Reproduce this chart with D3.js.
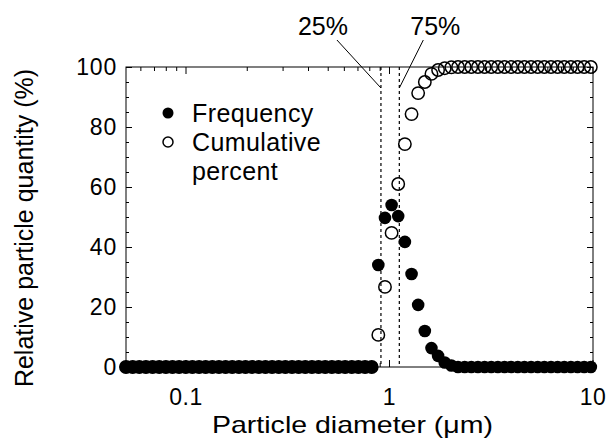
<!DOCTYPE html>
<html>
<head>
<meta charset="utf-8">
<script src="https://cdn.jsdelivr.net/npm/d3@7"></script>
<style>
  body { margin: 0; background: #fff; }
  text { font-family: 'Liberation Sans', Arial, sans-serif; fill: #000; }
</style>
</head>
<body>
<div id="chart"></div>
<script>
// particle diameter bins (um)
const diameters = [
  0.0510, 0.0550, 0.0593, 0.0639, 0.0689, 0.0743, 0.0801, 0.0863, 0.0930, 0.1003,
  0.1081, 0.1166, 0.1256, 0.1355, 0.1460, 0.1574, 0.1697, 0.1830, 0.1972, 0.2126,
  0.2292, 0.2471, 0.2664, 0.2872, 0.3096, 0.3338, 0.3597, 0.3879, 0.4181, 0.4507,
  0.4860, 0.5239, 0.5647, 0.6088, 0.6563, 0.7074, 0.7627, 0.8222, 0.8863, 0.9556,
  1.030, 1.110, 1.197, 1.291, 1.391, 1.500, 1.617, 1.743, 1.879, 2.026,
  2.184, 2.355, 2.538, 2.736, 2.950, 3.180, 3.428, 3.696, 3.984, 4.295,
  4.630, 4.991, 5.381, 5.801, 6.254, 6.742, 7.268, 7.834, 8.446, 9.106,
  9.815
];
const frequency = [
  0, 0, 0, 0, 0, 0, 0, 0, 0, 0,
  0, 0, 0, 0, 0, 0, 0, 0, 0, 0,
  0, 0, 0, 0, 0, 0, 0, 0, 0, 0,
  0, 0, 0, 0, 0, 0, 0, 0, 34, 49.7,
  54, 50.3, 41.7, 31, 20.7, 12, 6.3, 3.7, 1.5, 0.5,
  0, 0, 0, 0, 0, 0, 0, 0, 0, 0,
  0, 0, 0, 0, 0, 0, 0, 0, 0, 0,
  0
];
const cumulative = [
  0, 0, 0, 0, 0, 0, 0, 0, 0, 0,
  0, 0, 0, 0, 0, 0, 0, 0, 0, 0,
  0, 0, 0, 0, 0, 0, 0, 0, 0, 0,
  0, 0, 0, 0, 0, 0, 0, 0, 10.7, 26.7,
  44.7, 61, 74.3, 84.3, 91.3, 95, 97.7, 99, 99.6, 99.9,
  100, 100, 100, 100, 100, 100, 100, 100, 100, 100,
  100, 100, 100, 100, 100, 100, 100, 100, 100, 100,
  100
];
const xTickLabels = [0.1, 1, 10];
const yTickLabels = [0, 20, 40, 60, 80, 100];
const quartileNames = ['25%', '75%'];
const quartileDiameters = [0.913, 1.124];
const legendNames = ['Frequency', 'Cumulative'];

const width = 606;
const height = 448;
const margin = {top: 67, right: 13, bottom: 81, left: 126};

const svg = d3.select('#chart')
    .append('svg')
    .attr('width', width)
    .attr('height', height);

const x = d3.scaleLog()
    .domain([0.051, 10.06])
    .range([margin.left, width - margin.right]);
const y = d3.scaleLinear()
    .domain([0, 100])
    .range([height - margin.bottom, margin.top]);

const x0 = x.range()[0];
const x1 = x.range()[1];
const y0 = y.range()[0];
const y1 = y.range()[1];

// minor log ticks
const majorX = xTickLabels;
const minorX = [];
[0.01, 0.1, 1].forEach(function(dec) {
  for (let k = 2; k <= 9; k++) {
    const v = dec * k;
    if (v >= x.domain()[0] && v <= x.domain()[1]) minorX.push(v);
  }
});
const majorY = yTickLabels;
const minorY = d3.range(0, 101, 5).filter(function(v) {
  return v % 20 !== 0;
});

function tickGroup(axis, transform) {
  const g = svg.append('g')
      .attr('transform', transform)
      .call(axis);
  g.select('.domain').remove();
  g.selectAll('line').attr('stroke', '#000').attr('stroke-width', 1);
  return g;
}

// top (inward)
tickGroup(d3.axisBottom(x).tickValues(minorX).tickSize(4).tickFormat(''), 'translate(0,' + y1 + ')');
tickGroup(d3.axisBottom(x).tickValues(majorX).tickSize(7).tickFormat(''), 'translate(0,' + y1 + ')');
// bottom (inward)
tickGroup(d3.axisTop(x).tickValues(minorX).tickSize(4).tickFormat(''), 'translate(0,' + y0 + ')');
tickGroup(d3.axisTop(x).tickValues(majorX).tickSize(7).tickFormat(''), 'translate(0,' + y0 + ')');
// left (inward)
tickGroup(d3.axisRight(y).tickValues(minorY).tickSize(3).tickFormat(''), 'translate(' + x0 + ',0)');
tickGroup(d3.axisRight(y).tickValues(majorY).tickSize(6).tickFormat(''), 'translate(' + x0 + ',0)');
// right (inward)
tickGroup(d3.axisLeft(y).tickValues(minorY).tickSize(3).tickFormat(''), 'translate(' + x1 + ',0)');
tickGroup(d3.axisLeft(y).tickValues(majorY).tickSize(6).tickFormat(''), 'translate(' + x1 + ',0)');

// tick labels
const xl = svg.append('g')
    .attr('transform', 'translate(0,' + y0 + ')')
    .call(d3.axisBottom(x).tickValues(xTickLabels).tickSize(0).tickPadding(0)
        .tickFormat(d3.format('')));
xl.select('.domain').remove();
xl.selectAll('text')
    .attr('dy', null)
    .attr('y', 38)
    .style('font-size', '23px')
    .style('letter-spacing', '0.5px');

const yl = svg.append('g')
    .attr('transform', 'translate(' + x0 + ',0)')
    .call(d3.axisLeft(y).tickValues(yTickLabels).tickSize(0).tickPadding(9));
yl.select('.domain').remove();
yl.selectAll('text')
    .style('font-size', '23px')
    .style('letter-spacing', '0.8px');

// frame
svg.append('rect')
    .attr('x', x0)
    .attr('y', y1)
    .attr('width', x1 - x0)
    .attr('height', y0 - y1)
    .attr('fill', 'none')
    .attr('stroke', '#000')
    .attr('stroke-width', 1);

// quartile lines
quartileDiameters.forEach(function(d, i) {
  const px = x(d);
  svg.append('line')
      .attr('x1', px).attr('x2', px)
      .attr('y1', y1).attr('y2', y0)
      .attr('stroke', '#000')
      .attr('stroke-width', 1.2)
      .attr('stroke-dasharray', '3,3');
  const lx = i === 0 ? px - 58 : px + 36;
  const sx = i === 0 ? px - 44 : px + 24;
  svg.append('line')
      .attr('x1', sx).attr('y1', 40)
      .attr('x2', px).attr('y2', 88)
      .attr('stroke', '#000')
      .attr('stroke-width', 1);
  svg.append('text')
      .attr('x', lx)
      .attr('y', 35)
      .attr('text-anchor', 'middle')
      .style('font-size', '25px')
      .text(quartileNames[i]);
});

const points = diameters.map(function(d, i) {
  return {d: d, f: frequency[i], c: cumulative[i]};
});

svg.append('g')
    .selectAll('circle')
    .data(points)
    .enter()
    .append('circle')
    .attr('cx', function(p) { return x(p.d); })
    .attr('cy', function(p) { return y(p.c); })
    .attr('r', 6.2)
    .attr('fill', 'none')
    .attr('stroke', '#000')
    .attr('stroke-width', 1.5);

svg.append('g')
    .selectAll('circle')
    .data(points)
    .enter()
    .append('circle')
    .attr('cx', function(p) { return x(p.d); })
    .attr('cy', function(p) { return y(p.f); })
    .attr('r', 6.3)
    .attr('fill', '#000');

// legend
const legend = svg.append('g');
legend.append('circle')
    .attr('cx', 168).attr('cy', 113).attr('r', 5.5)
    .attr('fill', '#000');
legend.append('circle')
    .attr('cx', 168).attr('cy', 142).attr('r', 5)
    .attr('fill', 'none')
    .attr('stroke', '#000')
    .attr('stroke-width', 1.5);
legend.append('text')
    .attr('x', 192).attr('y', 122)
    .style('font-size', '25px')
    .style('letter-spacing', '0.4px')
    .text(legendNames[0]);
legend.append('text')
    .attr('x', 192).attr('y', 151)
    .style('font-size', '25px')
    .style('letter-spacing', '0.4px')
    .text(legendNames[1]);
legend.append('text')
    .attr('x', 192).attr('y', 180)
    .style('font-size', '25px')
    .style('letter-spacing', '0.4px')
    .text('percent');

// axis titles
svg.append('text')
    .attr('x', 212)
    .attr('y', 433)
    .attr('textLength', 281)
    .attr('lengthAdjust', 'spacingAndGlyphs')
    .style('font-size', '24px')
    .text('Particle diameter (\u03bcm)');

svg.append('text')
    .attr('transform', 'translate(33,228) rotate(-90)')
    .attr('text-anchor', 'middle')
    .style('font-size', '25px')
    .text('Relative particle quantity (%)');
</script>
</body>
</html>
